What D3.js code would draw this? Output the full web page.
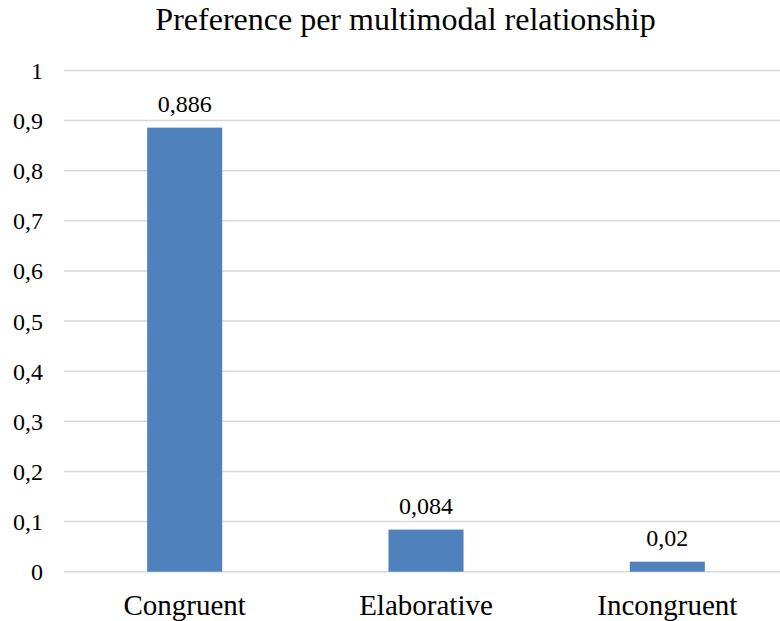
<!DOCTYPE html>
<html>
<head>
<meta charset="utf-8">
<script src="https://cdn.jsdelivr.net/npm/d3@7"></script>
<style>
  html, body { margin: 0; padding: 0; background: #fff; }
  svg { display: block; }
</style>
</head>
<body>
<svg id="chart" width="780" height="621"></svg>
<script>
// Share of preference for each multimodal relationship
const categories = ["Congruent", "Elaborative", "Incongruent"];
const values = [0.886, 0.084, 0.02];
const valueLabels = ["0,886", "0,084", "0,02"];
const yTicks = [0, 0.1, 0.2, 0.3, 0.4, 0.5, 0.6, 0.7, 0.8, 0.9, 1];
const yTickLabels = ["0", "0,1", "0,2", "0,3", "0,4", "0,5", "0,6", "0,7", "0,8", "0,9", "1"];
const title = "Preference per multimodal relationship";

const serif = "'Liberation Serif', 'Times New Roman', 'DejaVu Serif', serif";
const svg = d3.select("#chart")
  .attr("font-family", serif)
  .attr("fill", "#000");
const plotLeft = 64, plotRight = 788, plotTop = 70.5, plotBottom = 571.7;

const x = d3.scaleBand()
  .domain(categories)
  .range([plotLeft, plotRight])
  .paddingInner(0.689)
  .paddingOuter(0.689 / 2);

const y = d3.scaleLinear().domain([0, 1]).range([plotBottom, plotTop]);

// horizontal gridlines
svg.append("g")
  .selectAll("line")
  .data(yTicks)
  .join("line")
  .attr("x1", plotLeft)
  .attr("x2", 780)
  .attr("y1", d => y(d))
  .attr("y2", d => y(d))
  .attr("stroke", "#d9d9d9")
  .attr("stroke-width", 1.5);

// y tick labels
svg.append("g")
  .selectAll("text")
  .data(yTicks)
  .join("text")
  .attr("x", 43)
  .attr("y", d => y(d))
  .attr("dy", "0.35em")
  .attr("text-anchor", "end")
  .attr("font-family", serif)
  .attr("font-size", 24)
  .text((d, i) => yTickLabels[i]);

// bars
svg.append("g")
  .selectAll("rect")
  .data(values)
  .join("rect")
  .attr("x", (d, i) => x(categories[i]))
  .attr("width", x.bandwidth())
  .attr("y", d => y(d))
  .attr("height", d => y(0) - y(d))
  .attr("fill", "#4f81bd");

// value labels above bars
svg.append("g")
  .selectAll("text")
  .data(values)
  .join("text")
  .attr("x", (d, i) => x(categories[i]) + x.bandwidth() / 2)
  .attr("y", d => y(d) - 16)
  .attr("text-anchor", "middle")
  .attr("font-family", serif)
  .attr("font-size", 24)
  .text((d, i) => valueLabels[i]);

// category labels
svg.append("g")
  .selectAll("text")
  .data(categories)
  .join("text")
  .attr("x", d => x(d) + x.bandwidth() / 2)
  .attr("y", 614.5)
  .attr("text-anchor", "middle")
  .attr("font-family", serif)
  .attr("font-size", 29)
  .text(d => d);

// title
svg.append("text")
  .attr("x", 405.5)
  .attr("y", 30)
  .attr("text-anchor", "middle")
  .attr("font-family", serif)
  .attr("font-size", 32)
  .text(title);
</script>
</body>
</html>
